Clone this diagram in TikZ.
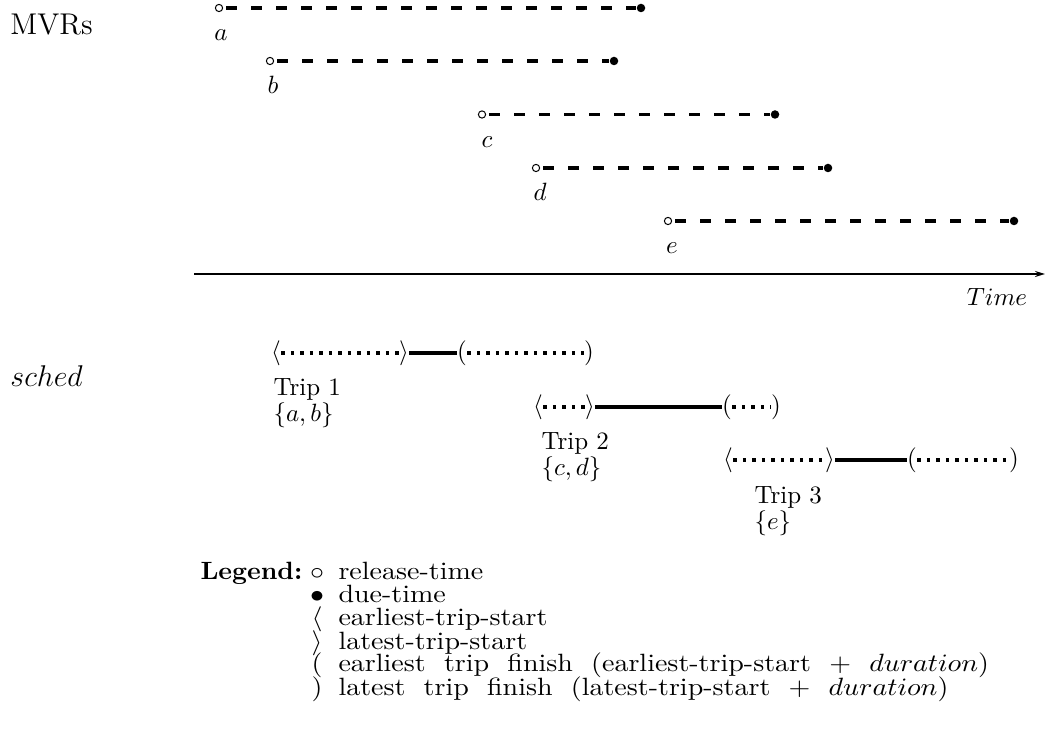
\documentclass[tikz,border=0pt]{standalone}
\usepackage{graphicx}
\usetikzlibrary{arrows.meta}
\newcommand{\lgdtext}[1]{\scalebox{1.12}[1]{\spaceskip=6.5pt\relax #1}}
\begin{document}
\begin{tikzpicture}[x=0.4pt,y=-0.4pt,
  rel/.style={circle,draw,line width=0.4pt,inner sep=0pt,minimum size=2.9pt},
  due/.style={circle,fill,inner sep=0pt,minimum size=3.4pt},
  mvr/.style={line width=1.3pt,dash pattern=on 4.4pt off 5.6pt,shorten <=1.2pt},
  slack/.style={line width=1.3pt,dash pattern=on 1.3pt off 2.5pt},
  busy/.style={line width=1.3pt},
  delim/.style={inner sep=0pt},
  lbl/.style={anchor=base,inner sep=0pt},
  txt/.style={anchor=base west,inner sep=0pt},
  axis/.style={line width=0.8pt,-{Stealth[length=4pt,width=2.4pt]}},
]
\useasboundingbox (0,0) rectangle (1045,750);

% headings
\node[txt,font=\large] (mvrs) at (10,35) {MVRs};
\node[txt,font=\large] (sched) at (10,387) {$sched$};

% MVRs
\node[rel] (a0) at (219,8) {};   \node[due] (a1) at (641,8) {};
\node[rel] (b0) at (270,61) {};  \node[due] (b1) at (614,61) {};
\node[rel] (c0) at (482,114.5) {}; \node[due] (c1) at (775,114.5) {};
\node[rel] (d0) at (536,168) {}; \node[due] (d1) at (828,168) {};
\node[rel] (e0) at (668,221) {}; \node[due] (e1) at (1014,221) {};
\draw[mvr] (a0) -- (a1);
\draw[mvr] (b0) -- (b1);
\draw[mvr] (c0) -- (c1);
\draw[mvr] (d0) -- (d1);
\draw[mvr] (e0) -- (e1);
\node[lbl] (la) at (221,41) {$a$};
\node[lbl] (lb) at (273,94) {$b$};
\node[lbl] (lc) at (487,147.5) {$c$};
\node[lbl] (ld) at (540,201) {$d$};
\node[lbl] (le) at (672,254) {$e$};

% time axis
\coordinate (t0) at (194,274);
\coordinate (t1) at (1045,274);
\draw[axis] (t0) -- (t1);
\node[lbl] (time) at (997,306) {$Time$};

% Trip 1
\node[delim] (p1a) at (276,353) {$\langle$};
\node[delim] (p1b) at (404,353) {$\rangle$};
\node[delim] (p1c) at (462,353) {$($};
\node[delim] (p1d) at (589,353) {$)$};
\draw[slack] (p1a) -- (p1b);
\draw[busy] (p1b) -- (p1c);
\draw[slack] (p1c) -- (p1d);
\node[txt] (trip1) at (273,396) {Trip 1};
\node[txt] (set1) at (273,422) {$\{a,b\}$};

% Trip 2
\node[delim] (p2a) at (538,407) {$\langle$};
\node[delim] (p2b) at (590,407) {$\rangle$};
\node[delim] (p2c) at (727,407) {$($};
\node[delim] (p2d) at (776,407) {$)$};
\draw[slack] (p2a) -- (p2b);
\draw[busy] (p2b) -- (p2c);
\draw[slack] (p2c) -- (p2d);
\node[txt] (trip2) at (541,450) {Trip 2};
\node[txt] (set2) at (541,476) {$\{c,d\}$};

% Trip 3
\node[delim] (p3a) at (728,460) {$\langle$};
\node[delim] (p3b) at (830,460) {$\rangle$};
\node[delim] (p3c) at (912,460) {$($};
\node[delim] (p3d) at (1014,460) {$)$};
\draw[slack] (p3a) -- (p3b);
\draw[busy] (p3b) -- (p3c);
\draw[slack] (p3c) -- (p3d);
\node[txt] (trip3) at (754,504) {Trip 3};
\node[txt] (set3) at (754,530) {$\{e\}$};

% legend
\node[txt] (leg) at (200,580) {\scalebox{1.04}[1]{\textbf{Legend:}}};
\node[lbl] (s1) at (317,580) {\lgdtext{$\circ$}};
\node[lbl] (s2) at (317,603) {\lgdtext{$\bullet$}};
\node[lbl] (s3) at (317,626) {\lgdtext{$\langle$}};
\node[lbl] (s4) at (317,649) {\lgdtext{$\rangle$}};
\node[lbl] (s5) at (317,672) {\lgdtext{$($}};
\node[lbl] (s6) at (317,695) {\lgdtext{$)$}};
\node[txt] (l1) at (338,580) {\lgdtext{release-time}};
\node[txt] (l2) at (338,603) {\lgdtext{due-time}};
\node[txt] (l3) at (338,626) {\lgdtext{earliest-trip-start}};
\node[txt] (l4) at (338,649) {\lgdtext{latest-trip-start}};
\node[txt] (l5) at (338,672) {\lgdtext{earliest trip finish (earliest-trip-start $+$ $duration$)}};
\node[txt] (l6) at (338,695) {\lgdtext{latest trip finish (latest-trip-start $+$ $duration$)}};
\end{tikzpicture}
\end{document}
